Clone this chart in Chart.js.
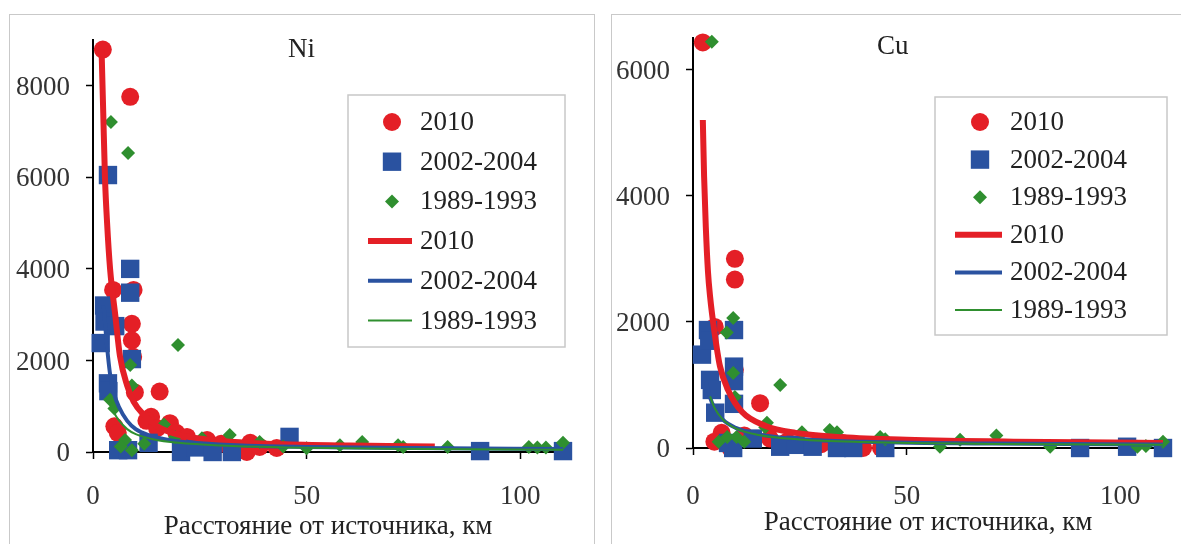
<!DOCTYPE html>
<html>
<head>
<meta charset="utf-8">
<title>Ni, Cu</title>
<script src="https://cdn.jsdelivr.net/npm/chart.js@4.4.1/dist/chart.umd.min.js"></script>
<style>
  html, body { margin: 0; padding: 0; background: #fff; }
  body { width: 1181px; height: 544px; position: relative; overflow: hidden; }
  .panel { position: absolute; top: 14px; height: 560px; border: 1px solid #c9c9c9; }
  #niPanel { left: 9px; width: 584px; }
  #cuPanel { left: 611px; width: 580px; }
  canvas { position: absolute; left: 0; top: 0; }
</style>
</head>
<body>
<div class="panel" id="niPanel"><canvas id="niChart" width="584" height="529"></canvas></div>
<div class="panel" id="cuPanel"><canvas id="cuChart" width="569" height="529"></canvas></div>
<script>
// ---- Ni: [distance km, value] ----
const ni2010 = [
  [2.3, 8790], [8.7, 7760], [4.7, 3540], [9.5, 3540], [9.1, 2800], [9.1, 2440],
  [9.4, 2080], [9.8, 1300], [15.6, 1320], [5.0, 560], [5.8, 420], [13.6, 770],
  [12.5, 680], [18, 630], [15, 520], [19.5, 420], [22, 330], [26.7, 260],
  [30, 180], [36.8, 200], [36, 0], [39, 110], [43, 90]
];
const ni2002 = [
  [3.5, 6050], [8.7, 4000], [8.7, 3480], [2.6, 3200], [2.7, 2850], [5.2, 2750],
  [1.8, 2380], [9.1, 2030], [3.5, 1500], [3.6, 1330], [5.9, 40], [8.2, 40],
  [13, 200], [20.6, 0], [24, 100], [28, 0], [32.5, 0], [46, 330],
  [90.6, 20], [110, 20]
];
const ni1989 = [
  [4.2, 7210], [8.2, 6530], [19.9, 2340], [8.7, 1900], [9.1, 1450], [4.0, 1140],
  [5.0, 950], [16.6, 600], [7.5, 260], [9.1, 40], [6.5, 120], [12, 180],
  [19.2, 330], [25.5, 300], [32, 370], [39, 220], [44.5, 120], [50, 80],
  [57.8, 150], [63, 220], [71.4, 150], [72.6, 110], [83, 110], [102, 110],
  [104, 100], [106, 100], [110, 200]
];
const niFit2010 = [
  [2.0, 8800], [2.4, 7400], [2.8, 6000], [3.3, 5000], [4.0, 4000], [5.2, 3000],
  [6.3, 2100], [8.0, 1450], [9.5, 1100], [12, 800], [15, 560], [20, 380],
  [27, 270], [35, 210], [45, 170], [60, 140], [80, 120]
];
const niFit2002 = [
  [2.5, 3200], [3.0, 2600], [3.5, 2100], [4.0, 1700], [5.0, 1250], [6.0, 1000],
  [8.0, 680], [10, 500], [13, 370], [18, 260], [25, 190], [35, 140],
  [50, 110], [75, 85], [110, 65]
];
const niFit1989 = [
  [4.0, 1100], [5.0, 850], [6.0, 700], [8.0, 500], [10, 390], [14, 280],
  [20, 200], [30, 140], [45, 100], [70, 70], [110, 50]
];

// ---- Cu: [distance km, value] ----
const cu2010 = [
  [2.3, 6430], [9.8, 3000], [9.8, 2670], [5.1, 1920], [9.8, 1240], [15.7, 710],
  [6.7, 240], [5.0, 100], [8.7, 0], [12, 200], [18, 150], [22, 100],
  [30, 60], [35, 80], [39.8, 0], [44, 0]
];
const cu2002 = [
  [2.1, 1480], [3.5, 1870], [3.8, 1700], [9.6, 1870], [9.6, 1290], [4.0, 1080],
  [9.6, 1060], [4.4, 920], [9.6, 700], [5.2, 560], [8.2, 80], [9.4, 0],
  [14, 150], [20.4, 20], [24, 50], [28, 20], [33.7, 0], [37.5, 0],
  [45, 0], [90.6, 0], [101.6, 20], [110, 0]
];
const cu1989 = [
  [4.4, 6440], [9.4, 2060], [7.9, 1830], [9.4, 1190], [20.4, 1000], [9.8, 810],
  [17.3, 400], [16.9, 330], [8, 175], [10.2, 175], [6, 100], [12, 100],
  [25.5, 250], [32, 285], [33.7, 250], [43.8, 175], [45, 140], [57.8, 20],
  [62.5, 130], [71, 200], [83.6, 20], [104, 20], [106, 30], [110, 100]
];
const cuFit2010 = [
  [2.3, 5200], [2.6, 4300], [3.0, 3500], [3.5, 2800], [4.0, 2400], [5.0, 1850],
  [6.3, 1300], [8.2, 920], [11.5, 570], [17, 350], [24, 240], [35, 170],
  [50, 130], [75, 100], [110, 80]
];
const cuFit2002 = [
  [3.0, 1050], [4.0, 800], [5.0, 640], [7.0, 450], [10, 320], [15, 220],
  [25, 140], [40, 100], [70, 70], [110, 55]
];
const cuFit1989 = [
  [4.0, 820], [5.0, 640], [7.0, 450], [10, 310], [15, 210], [25, 135],
  [40, 95], [70, 65], [110, 50]
];

// axis ticks (only the even ones get a label)
const xTicks = [0, 10, 20, 30, 40, 50, 60, 70, 80, 90, 100, 110];
const niYTicks = [0, 1000, 2000, 3000, 4000, 5000, 6000, 7000, 8000, 9000];
const cuYTicks = [0, 1000, 2000, 3000, 4000, 5000, 6000];

const seriesLabels = ['2010', '2002-2004', '1989-1993'];
const axisTitle = 'Расстояние от источника, км';

const RED = '#e41f26';
const BLUE = '#2a52a0';
const GREEN = '#2f8f2f';
const FONT = '"Liberation Serif", "Times New Roman", serif';

Chart.defaults.font.family = FONT;
Chart.defaults.font.size = 27;
Chart.defaults.color = '#2a2a2a';

const pts = (pairs) => pairs.map(([x, y]) => ({ x, y }));

function buildDatasets(p2010, p2002, p1989, f2010, f2002, f1989) {
  const marker = (data, style, radius, color, order, i) => ({
    label: seriesLabels[i], data: pts(data), showLine: false,
    pointStyle: style, pointRadius: radius, pointHoverRadius: radius,
    backgroundColor: color, borderColor: color, borderWidth: 0,
    order, clip: false
  });
  const trend = (data, color, width, order, i) => ({
    label: seriesLabels[i], data: pts(data), showLine: true,
    pointRadius: 0, borderColor: color, backgroundColor: color,
    borderWidth: width, cubicInterpolationMode: 'monotone',
    order, clip: false
  });
  return [
    marker(p2010, 'circle', 9, RED, 5, 0),
    marker(p2002, 'rect', 13, BLUE, 4, 1),
    marker(p1989, 'rectRot', 7, GREEN, 3, 2),
    trend(f2010, RED, 6, 2, 0),
    trend(f2002, BLUE, 4, 1, 1),
    trend(f1989, GREEN, 2, 0, 2)
  ];
}

// legend box drawn inside the plot area
const boxLegend = {
  id: 'boxLegend',
  afterDraw(chart, args, o) {
    const { ctx, chartArea } = chart;
    const bx = chartArea.left + o.left;
    const by = chartArea.top + o.top;
    ctx.save();
    ctx.fillStyle = '#fff';
    ctx.fillRect(bx, by, o.width, o.height);
    ctx.strokeStyle = '#c8c8c8';
    ctx.lineWidth = 1.5;
    ctx.strokeRect(bx, by, o.width, o.height);
    ctx.font = '27px ' + FONT;
    ctx.textBaseline = 'middle';
    chart.data.datasets.forEach((ds, i) => {
      const cy = by + o.firstRow + i * o.rowHeight;
      if (ds.showLine) {
        ctx.strokeStyle = ds.borderColor;
        ctx.lineWidth = ds.borderWidth;
        ctx.beginPath();
        ctx.moveTo(bx + o.lineFrom, cy);
        ctx.lineTo(bx + o.lineTo, cy);
        ctx.stroke();
      } else {
        ctx.fillStyle = ds.backgroundColor;
        ctx.strokeStyle = ds.borderColor;
        Chart.helpers.drawPoint(ctx, {
          pointStyle: ds.pointStyle, radius: ds.pointRadius, rotation: 0, borderWidth: 0
        }, bx + o.markerX, cy);
      }
      ctx.fillStyle = '#222';
      ctx.fillText(ds.label, bx + o.textX, cy + 1);
    });
    ctx.restore();
  }
};

// element name written in the upper part of the plot
const panelLabel = {
  id: 'panelLabel',
  afterDraw(chart, args, o) {
    const { ctx, chartArea } = chart;
    ctx.save();
    ctx.font = '27px ' + FONT;
    ctx.fillStyle = '#222';
    ctx.textBaseline = 'middle';
    ctx.fillText(o.text, chartArea.left + o.dx, chartArea.top + o.dy);
    ctx.restore();
  }
};

function makeChart(id, datasets, cfg) {
  return new Chart(document.getElementById(id), {
    type: 'scatter',
    data: { datasets },
    plugins: [boxLegend, panelLabel],
    options: {
      responsive: false,
      animation: false,
      layout: { padding: { left: 0, top: cfg.padTop, right: cfg.padRight, bottom: 0 } },
      plugins: {
        legend: { display: false },
        tooltip: { enabled: false },
        boxLegend: cfg.legend,
        panelLabel: cfg.label
      },
      scales: {
        x: {
          type: 'linear', min: 0, max: 110,
          afterBuildTicks: (s) => { s.ticks = xTicks.map((value) => ({ value })); },
          afterFit: (s) => { s.height = cfg.xHeight; s.paddingLeft = 0; s.paddingRight = 0; },
          border: { display: true, color: '#000', width: 2 },
          grid: { drawOnChartArea: false, drawTicks: true, tickLength: 7, color: '#000', tickWidth: 1.5 },
          ticks: {
            autoSkip: false, maxRotation: 0, padding: cfg.xTickPad, color: '#333',
            callback: (v) => (v % 50 === 0 ? v : null)
          },
          title: { display: true, text: axisTitle, color: '#222', padding: { top: 0, bottom: cfg.titlePad } }
        },
        y: {
          type: 'linear', min: 0, max: cfg.yMax,
          afterBuildTicks: (s) => { s.ticks = cfg.yTicks.map((value) => ({ value })); },
          afterFit: (s) => { s.width = cfg.yWidth; s.paddingTop = 0; s.paddingBottom = 0; },
          border: { display: true, color: '#000', width: 2 },
          grid: { drawOnChartArea: false, drawTicks: true, tickLength: 7, tickWidth: 1.5, color: '#000' },
          ticks: {
            autoSkip: false, padding: 16, labelOffset: 2, color: '#333',
            callback: (v) => (v % 2000 === 0 ? v : null)
          }
        }
      }
    }
  });
}

makeChart('niChart',
  buildDatasets(ni2010, ni2002, ni1989, niFit2010, niFit2002, niFit1989),
  {
    yMax: 9000, yTicks: niYTicks, yWidth: 83, xHeight: 92, padTop: 25, padRight: 31,
    xTickPad: 22, titlePad: 1,
    legend: { left: 255, top: 55, width: 217, height: 252, firstRow: 27, rowHeight: 39.7,
              markerX: 44, lineFrom: 20, lineTo: 64, textX: 72 },
    label: { text: 'Ni', dx: 195, dy: 10 }
  });

makeChart('cuChart',
  buildDatasets(cu2010, cu2002, cu1989, cuFit2010, cuFit2002, cuFit1989),
  {
    yMax: 6500, yTicks: cuYTicks, yWidth: 81, xHeight: 96, padTop: 23, padRight: 18,
    xTickPad: 26, titlePad: 5,
    legend: { left: 242, top: 59, width: 232, height: 238, firstRow: 25, rowHeight: 37.6,
              markerX: 45, lineFrom: 20, lineTo: 67, textX: 75 },
    label: { text: 'Cu', dx: 184, dy: 9 }
  });
</script>
</body>
</html>
